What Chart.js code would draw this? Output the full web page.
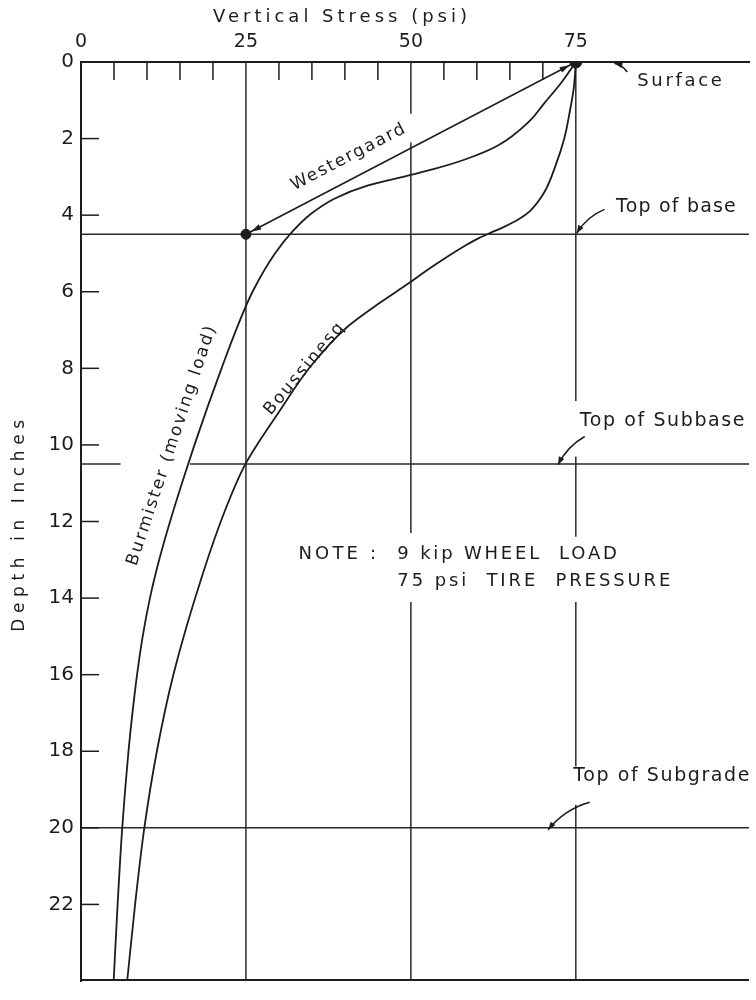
<!DOCTYPE html>
<html>
<head>
<meta charset="utf-8">
<script src="https://cdn.jsdelivr.net/npm/chart.js@4.4.1/dist/chart.umd.min.js"></script>
<style>
  html, body { margin: 0; padding: 0; background: #ffffff; }
  #wrap { width: 756px; height: 1000px; }
  canvas { display: block; }
</style>
</head>
<body>
<div id="wrap"><canvas id="c" width="756" height="1000"></canvas></div>
<script>
// Vertical stress (psi) against depth (in) under a 9 kip wheel load at 75 psi tire pressure

const stressTicks = [0, 25, 50, 75];
const stressMinorTicks = [5, 10, 15, 20, 30, 35, 40, 45, 55, 60, 65, 70];
const depthTicks = [0, 2, 4, 6, 8, 10, 12, 14, 16, 18, 20, 22];

// Burmister (moving load) curve
const burmisterDepth  = [0, 0.56, 1.08, 1.54, 2.18, 2.54, 2.80, 2.95, 3.23, 3.57, 4.0, 4.4, 5, 6, 7, 8, 9, 10, 11, 12, 13, 14, 15, 16, 17, 18, 20, 22, 24];
const burmisterStress = [75, 72.7, 70.2, 68.0, 63.2, 58.3, 53.4, 50.0, 43.4, 38.4, 34.6, 32.2, 29.4, 26.0, 23.5, 21.3, 19.2, 17.2, 15.3, 13.5, 11.85, 10.45, 9.35, 8.5, 7.8, 7.2, 6.25, 5.55, 4.95];

// Boussinesq curve
const boussinesqDepth  = [0, 0.67, 1.28, 2.0, 2.72, 3.41, 3.9, 4.1, 4.3, 4.45, 4.6, 4.8, 5.1, 5.42, 5.8, 6.29, 6.96, 7.96, 9.19, 9.91, 10.52, 11.68, 13.37, 16, 18, 20, 22, 24];
const boussinesqStress = [75, 74.7, 74.1, 73.25, 71.9, 70.2, 68.0, 66.4, 64.2, 62.2, 60.3, 58.2, 55.4, 52.6, 49.5, 45.3, 40.1, 34.75, 29.8, 27.0, 24.85, 21.9, 18.45, 14.0, 11.5, 9.6, 8.2, 7.0];

// Westergaard value at the top of base, joined by an arrow from the surface pressure
const westergaardStress = [75, 25];
const westergaardDepth  = [0, 4.5];

// Layer boundaries
const layerDepths = [4.5, 10.5, 20];
const layerNames  = ['Top of base', 'Top of Subbase', 'Top of Subgrade'];

const DEPTH_MAX = 24;
const STRESS_MAX = 101.25;
const INK = '#1c1c1c';
const FACE = '"DejaVu Sans", "Liberation Sans", sans-serif';

const pts = (xs, ys) => xs.map((x, i) => ({ x, y: ys[i] }));

// vertical rule at a stress value, broken where lettering crosses it
function vRule(xVal, spans) {
  const out = [];
  spans.forEach((s, i) => {
    if (i) out.push({ x: xVal, y: null });
    out.push({ x: xVal, y: s[0] }, { x: xVal, y: s[1] });
  });
  return out;
}
function hRule(yVal, spans) {
  const out = [];
  spans.forEach((s, i) => {
    if (i) out.push({ x: null, y: yVal });
    out.push({ x: s[0], y: yVal }, { x: s[1], y: yVal });
  });
  return out;
}

const ruleStyle = {
  type: 'line', borderColor: '#2a2a2a', borderWidth: 1.5, pointRadius: 0,
  fill: false, spanGaps: false, tension: 0
};
// depth is the independent variable, so the smooth curves interpolate along y
const curveStyle = {
  type: 'line', indexAxis: 'y', borderColor: INK, borderWidth: 1.8, pointRadius: 0,
  fill: false, cubicInterpolationMode: 'monotone'
};

const datasets = [
  {
    type: 'scatter', label: 'points',
    data: pts(westergaardStress, westergaardDepth),
    pointRadius: [6, 5], pointBackgroundColor: INK, pointBorderColor: INK, showLine: false
  },
  Object.assign({ label: 'Westergaard', data: pts(westergaardStress, westergaardDepth) }, curveStyle, { cubicInterpolationMode: 'default', tension: 0, borderWidth: 1.6 }),
  Object.assign({ label: 'Burmister (moving load)', data: pts(burmisterStress, burmisterDepth) }, curveStyle),
  Object.assign({ label: 'Boussinesq', data: pts(boussinesqStress, boussinesqDepth) }, curveStyle),
  Object.assign({ label: 'g25', data: vRule(stressTicks[1], [[0, DEPTH_MAX]]) }, ruleStyle),
  Object.assign({ label: 'g50', data: vRule(stressTicks[2], [[0, 1.35], [2.1, 12.3], [14.1, DEPTH_MAX]]) }, ruleStyle),
  Object.assign({ label: 'g75', data: vRule(stressTicks[3], [[0, 8.85], [10.3, 12.4], [14.1, 18.4], [19.4, DEPTH_MAX]]) }, ruleStyle),
  Object.assign({ label: layerNames[0], data: hRule(layerDepths[0], [[0, STRESS_MAX]]) }, ruleStyle),
  Object.assign({ label: layerNames[1], data: hRule(layerDepths[1], [[0, 6], [16.5, STRESS_MAX]]) }, ruleStyle),
  Object.assign({ label: layerNames[2], data: hRule(layerDepths[2], [[0, STRESS_MAX]]) }, ruleStyle)
];

// lettering, inner tick marks, arrows and the lower frame line
const notes = {
  id: 'notes',
  afterDatasetsDraw(chart) {
    const { ctx, chartArea } = chart;
    const sx = chart.scales.x, sy = chart.scales.y;
    const X = v => sx.getPixelForValue(v);
    const Y = v => sy.getPixelForValue(v);

    ctx.save();
    ctx.strokeStyle = INK;
    ctx.fillStyle = INK;
    ctx.lineCap = 'butt';

    // tick marks pointing into the plot
    ctx.lineWidth = 1.5;
    stressMinorTicks.forEach(v => {
      ctx.beginPath(); ctx.moveTo(X(v), Y(0)); ctx.lineTo(X(v), Y(0) + 18); ctx.stroke();
    });
    depthTicks.slice(1).forEach(v => {
      ctx.beginPath(); ctx.moveTo(X(0), Y(v)); ctx.lineTo(X(0) + 18, Y(v)); ctx.stroke();
    });

    // lower frame line
    ctx.lineWidth = 2;
    ctx.beginPath(); ctx.moveTo(X(0), Y(DEPTH_MAX) - 1); ctx.lineTo(chartArea.right, Y(DEPTH_MAX) - 1); ctx.stroke();

    function arrowHead(x, y, ang, len, half) {
      ctx.beginPath();
      ctx.moveTo(x, y);
      ctx.lineTo(x - len * Math.cos(ang) + half * Math.sin(ang), y - len * Math.sin(ang) - half * Math.cos(ang));
      ctx.lineTo(x - len * Math.cos(ang) - half * Math.sin(ang), y - len * Math.sin(ang) + half * Math.cos(ang));
      ctx.closePath();
      ctx.fill();
    }
    function curvedArrow(a, b, bend) {
      const x0 = X(a[0]), y0 = Y(a[1]), x1 = X(b[0]), y1 = Y(b[1]);
      const dx = x1 - x0, dy = y1 - y0, len = Math.hypot(dx, dy);
      const cx = (x0 + x1) / 2 - dy / len * bend;
      const cy = (y0 + y1) / 2 + dx / len * bend;
      ctx.lineWidth = 1.5;
      ctx.beginPath(); ctx.moveTo(x0, y0); ctx.quadraticCurveTo(cx, cy, x1, y1); ctx.stroke();
      arrowHead(x1, y1, Math.atan2(y1 - cy, x1 - cx), 8, 3);
    }
    function text(str, px, py, opt) {
      const o = Object.assign({ align: 'left', angle: 0, size: 17, spacing: 2 }, opt || {});
      ctx.save();
      ctx.translate(px, py);
      ctx.rotate(o.angle * Math.PI / 180);
      ctx.font = o.size + 'px ' + FACE;
      ctx.letterSpacing = o.spacing + 'px';
      ctx.textAlign = o.align;
      ctx.textBaseline = 'middle';
      ctx.fillText(str, 0, 0);
      ctx.restore();
    }

    // arrowheads on the Westergaard line, stopping at the dots
    {
      const ax = X(westergaardStress[0]), ay = Y(westergaardDepth[0]);
      const bx = X(westergaardStress[1]), by = Y(westergaardDepth[1]);
      const ang = Math.atan2(by - ay, bx - ax);
      arrowHead(bx - 6 * Math.cos(ang), by - 6 * Math.sin(ang), ang, 10, 3);
      arrowHead(ax + 7 * Math.cos(ang), ay + 7 * Math.sin(ang), ang + Math.PI, 10, 3);
    }

    // layer boundary call-outs
    curvedArrow([82.8, 0.26], [80.85, 0.03], 3);
    curvedArrow([79.35, 3.85], [75.15, 4.47], 6);
    curvedArrow([76.35, 9.78], [72.3, 10.52], 6);
    curvedArrow([77.1, 19.33], [70.8, 20.05], 8);

    text('Surface', X(84.3), Y(0.51), { size: 18, spacing: 2.7 });
    text(layerNames[0], X(81.1), Y(3.8), { size: 19, spacing: 1.2 });
    text(layerNames[1], X(75.6), Y(9.39), { size: 19, spacing: 1.6 });
    text(layerNames[2], X(74.6), Y(18.66), { size: 19, spacing: 1.6 });

    // curve names
    text('Westergaard', X(40.6), Y(2.48), { align: 'center', angle: -27.5, spacing: 1.8, size: 17 });
    text('Burmister (moving load)', X(13.8), Y(10.0), { align: 'center', angle: -71.6, spacing: 2.0, size: 17 });
    text('Boussinesq', X(33.9), Y(8.0), { align: 'center', angle: -50, spacing: 2, size: 17 });

    // load note
    text('NOTE :', X(32.95), Y(12.86), { size: 18, spacing: 3.2 });
    text('9 kip WHEEL  LOAD', X(47.95), Y(12.86), { size: 18, spacing: 2.8 });
    text('75 psi  TIRE  PRESSURE', X(47.95), Y(13.55), { size: 18, spacing: 2.9 });

    // axis titles
    text('Vertical Stress (psi)', 342, 17, { align: 'center', size: 18, spacing: 4 });
    text('Depth in Inches', 20, 523, { align: 'center', angle: -90, size: 17, spacing: 5.6 });

    ctx.restore();
  }
};

new Chart(document.getElementById('c'), {
  type: 'line',
  data: { datasets },
  options: {
    responsive: false,
    animation: false,
    events: [],
    layout: { padding: { top: 0, left: 0, right: 0, bottom: 3 } },
    plugins: { legend: { display: false }, tooltip: { enabled: false }, title: { display: false } },
    scales: {
      x: {
        type: 'linear', position: 'top', min: 0, max: STRESS_MAX,
        afterBuildTicks: s => { s.ticks = stressTicks.map(v => ({ value: v })); },
        afterFit: s => { s.height = 62; },
        ticks: { color: INK, font: { family: FACE, size: 19 }, padding: 9, autoSkip: false, maxRotation: 0 },
        grid: { display: false, drawTicks: false },
        border: { display: true, color: INK, width: 2 }
      },
      y: {
        type: 'linear', reverse: true, min: 0, max: DEPTH_MAX,
        afterBuildTicks: s => { s.ticks = depthTicks.map(v => ({ value: v })); },
        afterFit: s => { s.width = 81; },
        ticks: { color: INK, font: { family: FACE, size: 20 }, padding: 7, autoSkip: false },
        grid: { display: false, drawTicks: false },
        border: { display: true, color: INK, width: 2 }
      }
    }
  },
  plugins: [notes]
});
</script>
</body>
</html>
